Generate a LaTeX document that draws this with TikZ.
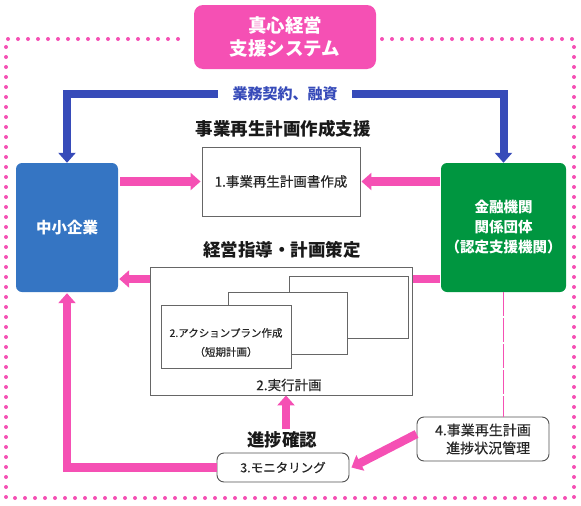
\documentclass[tikz,border=0pt]{standalone}
\usepackage{fontspec}
\setmainfont{Noto Sans CJK JP}
\newfontfamily\jpmed{Noto Sans CJK JP}[FakeBold=0.35]
\usetikzlibrary{arrows.meta}
\definecolor{mpink}{HTML}{F550B4}
\definecolor{mblue}{HTML}{374BB9}
\definecolor{bboxc}{HTML}{3575C3}
\definecolor{gboxc}{HTML}{009640}
\definecolor{edgec}{HTML}{666666}
\newcommand\fsz[2]{\fontsize{#1}{#2}\selectfont}
\begin{document}
\begin{tikzpicture}[x=1pt,y=-1pt,
  plainbox/.style={draw=edgec, line width=0.9pt, fill=white, inner sep=0pt},
  roundbox/.style={draw=edgec!80!black, line width=0.9pt, fill=white, rounded corners=7pt, inner sep=0pt},
  colbox/.style={rounded corners=6pt, inner sep=0pt, text=white, font=\bfseries, align=center},
  heading/.style={font=\fsz{17.5}{20}\bfseries, text=black!90, inner sep=0pt},
  boxtext/.style={text=black!85, inner sep=0pt},
  parrow/.style={draw=mpink, line width=8.5pt, -{Triangle[width=17pt,length=10pt]}},
  pline/.style={draw=mpink, line width=8.5pt},
  barrow/.style={draw=mblue, line width=8pt, -{Triangle[width=17pt,length=10pt]}},
  dotline/.style={draw=mpink, line width=4pt, line cap=round, dash pattern=on 0pt off 10pt}
]
\useasboundingbox (0,0) rectangle (581,506);

% dotted frame
\draw[dotline] (382,39) -- (574,39) -- (574,498) -- (6,498) -- (6,39) -- (181,39);

% title
\node[colbox, fill=mpink, rounded corners=9pt, minimum width=182pt, minimum height=64pt,
      font=\fsz{18.5}{23}\bfseries] (title) at (285,37) {真心経営\\支援システム};

% main boxes
\node[colbox, fill=bboxc, minimum width=102pt, minimum height=129pt,
      font=\fsz{15.5}{18}\bfseries] (sme) at (67,227.5) {中小企業};
\node[colbox, fill=gboxc, minimum width=125pt, minimum height=129pt,
      font=\fsz{14.5}{20}\bfseries] (bank) at (503.5,227.5) {金融機関\\関係団体\\（認定支援機関）};

% contract label and blue arrows
\node[font=\fsz{15}{18}\bfseries, text=mblue, inner xsep=14.5pt, inner ysep=0pt] (contract) at (285,94) {業務契約、融資};
\draw[barrow] (contract.west) -| (sme.north);
\draw[barrow] (contract.east) -| (bank.north);

% plan creation
\node[heading] (h1) at (283,129) {事業再生計画作成支援};
\node[plainbox, minimum width=158pt, minimum height=69pt, font=\jpmed\fsz{13.5}{16}, text=black!85] (plan) at (281,181.5) {1.事業再生計画書作成};
\draw[parrow] ([xshift=2pt]sme.east |- plan.west) -- ([xshift=-1pt]plan.west);
\draw[parrow] ([xshift=-1pt]bank.west |- plan.east) -- ([xshift=1pt]plan.east);

% guidance
\node[heading] (h2) at (282,250) {経営指導・計画策定};
\node[plainbox, minimum width=262pt, minimum height=128pt] (exec) at (281.7,331) {};
\node[plainbox, minimum width=119pt, minimum height=62pt] (pg3) at (348.5,307) {};
\node[plainbox, minimum width=119pt, minimum height=62pt] (pg2) at (287.5,323) {};
\node[plainbox, minimum width=130pt, minimum height=63pt] (pg1) at (226,336.5) {};
\node[boxtext, font=\jpmed\fsz{10.5}{19}, align=center] (pg1t) at (226,342.5) {2.アクションプラン作成\\（短期計画）};
\node[boxtext, font=\jpmed\fsz{13.5}{16}] (exect) at (289,385) {2.実行計画};

\coordinate (ly) at (0,279);
\draw[pline] ([xshift=-1pt]bank.west |- ly) -- (exec.east |- ly);
\draw[parrow] (exec.west |- ly) -- ([xshift=1pt]sme.east |- ly);

% monitoring
\node[heading] (h3) at (282,440) {進捗確認};
\node[roundbox, minimum width=132pt, minimum height=29pt, font=\jpmed\fsz{12.5}{15}, text=black!85] (mon) at (283,467.5) {3.モニタリング};
\coordinate (upstart) at (286,429);
\draw[parrow] (upstart) -- (upstart |- exec.south);
\draw[parrow] (mon.west) -| ([yshift=-1pt]sme.south);

% progress management
\node[roundbox, minimum width=132pt, minimum height=44pt, font=\jpmed\fsz{14}{18}, text=black!85, align=left] (prog) at (483,439) {4.事業再生計画\\\hspace*{11pt}進捗状況管理};
\draw[draw=mpink, line width=1pt, dash pattern=on 24pt off 2pt] (bank.south) -- (bank.south |- prog.north);
\draw[parrow] ([yshift=5pt]prog.west) -- ([xshift=2pt]mon.east);
\end{tikzpicture}
\end{document}
